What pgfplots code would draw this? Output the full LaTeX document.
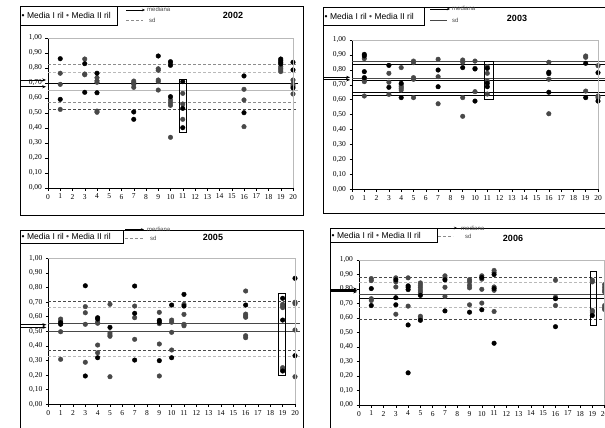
\documentclass[border=0pt]{standalone}
\usepackage{pgfplots}
\pgfplotsset{compat=1.18}
\usepackage{fontspec}
\setmainfont{Liberation Serif}
\newfontfamily\arial{Liberation Sans}
\usetikzlibrary{arrows.meta}
\definecolor{mgray}{RGB}{72,72,72}
\definecolor{sdgray}{RGB}{140,140,140}
\definecolor{lgray}{RGB}{185,185,185}
\pgfplotsset{
  panel/.style={
    scale only axis, anchor=south west, clip=false,
    xmin=0, xmax=20, ymin=0, ymax=1,
    xtick={0,1,...,20}, ytick={0,0.1,0.2,0.3,0.4,0.5,0.6,0.7,0.8,0.9,1},
    axis x line*=bottom, axis y line*=left,
    axis line style={black, line width=0.6pt, -},
    tick align=outside, major tick length=2.5pt,
    tick style={black, line width=0.5pt},
    /pgf/number format/assume math mode=true,
    xticklabel style={font=\fontsize{7.5}{8}\selectfont},
    yticklabel style={font=\fontsize{7.5}{8}\selectfont,
      /pgf/number format/fixed, /pgf/number format/fixed zerofill,
      /pgf/number format/precision=2, /pgf/number format/use comma},
    after end axis/.code={\draw[lgray, line width=0.6pt] (rel axis cs:0,1) -- (rel axis cs:1,1) -- (rel axis cs:1,0);},
  },
  mI/.style={only marks, mark=*, mark size=2.3pt, mark options={fill=black, draw=black}},
  mII/.style={only marks, mark=*, mark size=2.3pt, mark options={fill=mgray, draw=mgray}},
}
\newcommand{\legtext}{\textbullet\ Media I ril {\color{mgray}\textbullet}\ Media II ril}
\begin{document}
\begin{tikzpicture}[x=1pt, y=-1pt]
\useasboundingbox (0,0) rectangle (605,428);
\clip (0,0) rectangle (605,428);

% ---------------- 2002 ----------------
\begin{axis}[panel, at={(48pt,-188pt)}, width=245pt, height=150pt]
\addplot[sdgray, densely dashed, line width=0.7pt] coordinates {(0,0.827) (20.4,0.827)};
\addplot[lgray, densely dashed, line width=0.9pt] coordinates {(0,0.771) (20.4,0.771)};
\addplot[black, line width=0.8pt] coordinates {(0,0.70) (20.4,0.70)};
\addplot[lgray, line width=1.8pt] coordinates {(0,0.65) (20.4,0.65)};
\addplot[sdgray, densely dashed, line width=0.9pt] coordinates {(0,0.569) (20.4,0.569)};
\addplot[mgray, densely dashed, line width=0.6pt] coordinates {(0,0.524) (20.4,0.524)};
\addplot[mII] coordinates {(1,0.765) (1,0.691) (1,0.524) (3,0.86) (3,0.76) (3,0.755) (4,0.735) (4,0.715) (4,0.705) (4,0.513) (4,0.505) (7,0.713) (7,0.702) (7,0.691) (7,0.671) (9,0.795) (9,0.785) (9,0.72) (9,0.709) (9,0.653) (10,0.831) (10,0.587) (10,0.569) (10,0.551) (10,0.338) (11,0.631) (11,0.56) (11,0.458) (16,0.658) (16,0.587) (16,0.409) (19,0.809) (19,0.798) (19,0.787) (19,0.776) (20,0.72) (20,0.693) (20,0.68) (20,0.627)};
\addplot[mI] coordinates {(1,0.862) (1,0.591) (3,0.829) (3,0.638) (4,0.765) (4,0.635) (7,0.507) (7,0.458) (9,0.88) (10,0.842) (10,0.818) (10,0.609) (11,0.709) (11,0.531) (11,0.402) (16,0.747) (16,0.502) (19,0.86) (19,0.849) (19,0.838) (19,0.827) (20,0.838) (20,0.787) (20,0.667)};
\draw[black, line width=0.7pt] (axis cs:10.72,0.373) rectangle (axis cs:11.26,0.725);
\draw[-{Stealth[length=4pt,width=3pt]}, line width=0.9pt] (axis cs:-2.25,0.72) -- (axis cs:-0.15,0.72);
\draw[-{Stealth[length=4pt,width=3pt]}, line width=0.9pt] (axis cs:-2.25,0.675) -- (axis cs:-0.15,0.675);
\end{axis}
\draw[line width=0.8pt] (20,6) rectangle (303,215);
\draw[line width=0.8pt, fill=white] (20,6) rectangle (117,25);
\node[anchor=west, inner sep=0pt, font=\arial\fontsize{8.5}{9}\selectfont] at (21.5,15.5) {\legtext};
\draw[-{Stealth[length=3pt,width=2.5pt]}, line width=0.8pt] (126,10) -- (145,10);
\node[anchor=west, inner sep=0pt, font=\arial\fontsize{6}{7}\selectfont, text=mgray] at (147,9.5) {mediana};
\draw[sdgray, densely dashed, line width=0.6pt] (126,20) -- (143,20);
\node[anchor=west, inner sep=0pt, font=\arial\fontsize{6}{7}\selectfont, text=mgray] at (149,20) {sd};
\node[font=\arial\bfseries\fontsize{9}{10}\selectfont] at (233,15) {2002};

% ---------------- 2003 ----------------
\begin{axis}[panel, at={(352pt,-189.3pt)}, width=246pt, height=149.3pt]
\addplot[mgray, line width=0.7pt] coordinates {(0,0.855) (20.6,0.855)};
\addplot[black, line width=0.7pt] coordinates {(0,0.837) (20.6,0.837)};
\addplot[mgray, line width=0.7pt] coordinates {(0,0.745) (20.6,0.745)};
\addplot[black, line width=0.7pt] coordinates {(0,0.728) (20.6,0.728)};
\addplot[black, line width=0.7pt] coordinates {(0,0.652) (20.6,0.652)};
\addplot[black, line width=0.7pt] coordinates {(0,0.628) (20.6,0.628)};
\addplot[mII] coordinates {(1,0.875) (1,0.732) (1,0.721) (1,0.625) (3,0.777) (3,0.717) (3,0.636) (4,0.815) (4,0.699) (4,0.687) (4,0.677) (4,0.665) (5,0.859) (5,0.848) (5,0.748) (5,0.737) (5,0.614) (7,0.871) (7,0.754) (7,0.573) (9,0.866) (9,0.851) (9,0.614) (9,0.489) (10,0.859) (10,0.81) (10,0.654) (11,0.821) (11,0.777) (11,0.725) (11,0.638) (16,0.851) (16,0.737) (16,0.506) (19,0.893) (19,0.884) (19,0.658) (20,0.828) (20,0.625) (20,0.614)};
\addplot[mI] coordinates {(1,0.904) (1,0.893) (1,0.788) (1,0.748) (3,0.83) (3,0.683) (4,0.71) (4,0.614) (7,0.799) (7,0.687) (9,0.815) (10,0.806) (10,0.591) (11,0.81) (11,0.71) (11,0.687) (16,0.784) (16,0.775) (16,0.65) (19,0.844) (19,0.614) (20,0.781) (20,0.591)};
\draw[black, line width=0.7pt] (axis cs:10.72,0.60) rectangle (axis cs:11.5,0.86);
\draw[-{Stealth[length=4pt,width=3pt]}, line width=0.9pt] (axis cs:-2.3,0.75) -- (axis cs:-0.15,0.75);
\draw[-{Stealth[length=4pt,width=3pt]}, line width=0.9pt] (axis cs:-2.3,0.733) -- (axis cs:-0.15,0.733);
\end{axis}
\draw[line width=0.8pt] (323,7) rectangle (620,213);
\draw[line width=0.8pt, fill=white] (323,7) rectangle (424,25);
\node[anchor=west, inner sep=0pt, font=\arial\fontsize{8.5}{9}\selectfont] at (324.5,16) {\legtext};
\draw[-{Stealth[length=3pt,width=2.5pt]}, line width=0.8pt] (430,9) -- (450,9);
\node[anchor=west, inner sep=0pt, font=\arial\fontsize{6}{7}\selectfont, text=mgray] at (452,8.5) {mediana};
\draw[mgray, line width=0.6pt] (430,20) -- (447,20);
\node[anchor=west, inner sep=0pt, font=\arial\fontsize{6}{7}\selectfont, text=mgray] at (452,20) {sd};
\node[font=\arial\bfseries\fontsize{9}{10}\selectfont] at (517,18) {2003};

% ---------------- 2005 ----------------
\begin{axis}[panel, at={(48.3pt,-404.3pt)}, width=246.7pt, height=146pt]
\addplot[mgray, densely dashed, line width=0.6pt] coordinates {(0,0.708) (20.4,0.708)};
\addplot[lgray, densely dashed, line width=1pt] coordinates {(0,0.662) (20.4,0.662)};
\addplot[mgray, line width=1.5pt] coordinates {(0,0.552) (20.4,0.552)};
\addplot[mgray, line width=0.7pt] coordinates {(0,0.502) (20.4,0.502)};
\addplot[mgray, densely dashed, line width=0.6pt] coordinates {(0,0.37) (20.4,0.37)};
\addplot[lgray, densely dashed, line width=1pt] coordinates {(0,0.326) (20.4,0.326)};
\addplot[mII] coordinates {(1,0.584) (1,0.571) (1,0.497) (1,0.308) (3,0.669) (3,0.627) (3,0.548) (3,0.288) (4,0.562) (4,0.555) (4,0.406) (4,0.353) (5,0.685) (5,0.488) (5,0.475) (5,0.466) (5,0.189) (7,0.673) (7,0.593) (7,0.445) (9,0.63) (9,0.552) (9,0.413) (9,0.194) (10,0.577) (10,0.562) (10,0.493) (10,0.372) (11,0.685) (11,0.616) (11,0.548) (11,0.538) (16,0.776) (16,0.618) (16,0.605) (16,0.596) (16,0.47) (16,0.456) (19,0.685) (19,0.673) (19,0.662) (19,0.251) (19,0.24) (20,0.699) (20,0.689) (20,0.509) (20,0.189)};
\addplot[mI] coordinates {(1,0.559) (1,0.548) (3,0.812) (3,0.194) (4,0.593) (4,0.584) (4,0.319) (5,0.527) (7,0.81) (7,0.623) (7,0.303) (9,0.575) (9,0.562) (9,0.299) (10,0.68) (10,0.319) (11,0.753) (11,0.673) (16,0.68) (19,0.726) (19,0.577) (19,0.228) (20,0.863) (20,0.333)};
\draw[black, line width=0.7pt] (axis cs:18.68,0.20) rectangle (axis cs:19.22,0.76);
\draw[-{Stealth[length=4pt,width=3pt]}, line width=0.9pt] (axis cs:-2.25,0.545) -- (axis cs:-0.15,0.545);
\draw[-{Stealth[length=4pt,width=3pt]}, line width=0.9pt] (axis cs:-2.25,0.527) -- (axis cs:-0.15,0.527);
\end{axis}
\draw[line width=0.8pt] (20,230) rectangle (303,440);
\draw[line width=0.8pt, fill=white] (20,230) rectangle (123,243);
\node[anchor=west, inner sep=0pt, font=\arial\fontsize{8.5}{9}\selectfont] at (21.5,236.5) {\legtext};
\draw[-{Stealth[length=3pt,width=2.5pt]}, line width=0.8pt] (125,229.5) -- (144,229.5);
\node[anchor=west, inner sep=0pt, font=\arial\fontsize{6}{7}\selectfont, text=mgray] at (147,229) {mediana};
\draw[sdgray, densely dashed, line width=0.6pt] (125,238) -- (143,238);
\node[anchor=west, inner sep=0pt, font=\arial\fontsize{6}{7}\selectfont, text=mgray] at (150,238) {sd};
\node[font=\arial\bfseries\fontsize{9}{10}\selectfont] at (213,237) {2005};

% ---------------- 2006 ----------------
\begin{axis}[panel, at={(359pt,-405pt)}, width=245.6pt, height=145pt]
\addplot[mgray, densely dashed, line width=0.6pt] coordinates {(0,0.884) (20.6,0.884)};
\addplot[lgray, densely dashed, line width=1pt] coordinates {(0,0.842) (20.6,0.842)};
\addplot[mgray, line width=0.8pt] coordinates {(0,0.761) (20.6,0.761)};
\addplot[black, line width=0.8pt] coordinates {(0,0.737) (20.6,0.737)};
\addplot[lgray, densely dashed, line width=1pt] coordinates {(0,0.675) (20.6,0.675)};
\addplot[mgray, densely dashed, line width=0.6pt] coordinates {(0,0.589) (20.6,0.589)};
\addplot[mII] coordinates {(1,0.872) (1,0.858) (1,0.733) (1,0.721) (3,0.877) (3,0.849) (3,0.814) (3,0.626) (4,0.877) (4,0.682) (5,0.842) (5,0.826) (5,0.81) (5,0.793) (5,0.777) (5,0.612) (5,0.598) (7,0.891) (7,0.877) (7,0.812) (7,0.749) (9,0.865) (9,0.849) (9,0.826) (9,0.808) (9,0.691) (10,0.891) (10,0.868) (10,0.798) (10,0.703) (11,0.928) (11,0.914) (11,0.814) (11,0.791) (11,0.645) (16,0.861) (16,0.744) (16,0.686) (19,0.861) (19,0.849) (19,0.652) (19,0.64) (20,0.831) (20,0.812) (20,0.793) (20,0.78) (20,0.686) (20,0.67) (20,0.659)};
\addplot[mI] coordinates {(1,0.803) (1,0.686) (3,0.863) (3,0.74) (3,0.691) (4,0.822) (4,0.812) (4,0.796) (4,0.552) (4,0.222) (5,0.756) (5,0.584) (7,0.863) (7,0.649) (9,0.64) (10,0.879) (10,0.657) (11,0.9) (11,0.803) (11,0.426) (16,0.733) (16,0.54) (19,0.617)};
\draw[black, line width=0.7pt] (axis cs:18.8,0.552) rectangle (axis cs:19.32,0.925);
\draw[-{Stealth[length=4pt,width=3pt]}, line width=0.9pt] (axis cs:-2.3,0.80) -- (axis cs:-0.15,0.80);
\draw[-{Stealth[length=4pt,width=3pt]}, line width=0.9pt] (axis cs:-2.3,0.79) -- (axis cs:-0.15,0.79);
\draw[-{Stealth[length=4pt,width=3pt]}, line width=0.9pt] (axis cs:-2.3,0.78) -- (axis cs:-0.15,0.78);
\end{axis}
\draw[line width=0.8pt] (330,228) rectangle (620,440);
\draw[line width=0.8pt, fill=white] (330,228) rectangle (437,242);
\node[anchor=west, inner sep=0pt, font=\arial\fontsize{8.5}{9}\selectfont] at (331.5,235) {\legtext};
\draw[-{Stealth[length=3pt,width=2.5pt]}, line width=0.8pt] (437,228) -- (457,228);
\node[anchor=west, inner sep=0pt, font=\arial\fontsize{6}{7}\selectfont, text=mgray] at (461,228) {mediana};
\draw[sdgray, densely dashed, line width=0.6pt] (438,236) -- (453,236);
\node[anchor=west, inner sep=0pt, font=\arial\fontsize{6}{7}\selectfont, text=mgray] at (465,236) {sd};
\node[font=\arial\bfseries\fontsize{9}{10}\selectfont] at (513,238) {2006};
\end{tikzpicture}
\end{document}
